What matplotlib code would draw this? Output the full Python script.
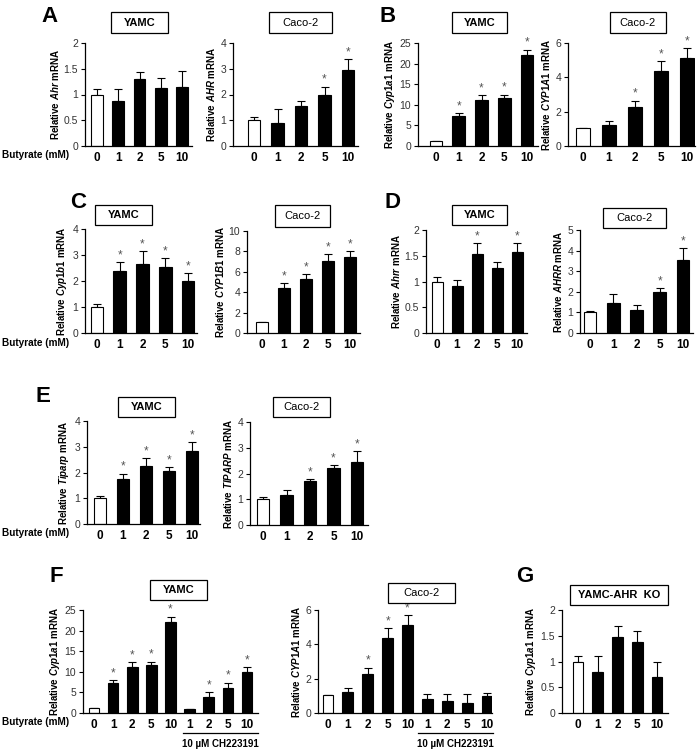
import numpy as np
import matplotlib
matplotlib.use('Agg')
import matplotlib.pyplot as plt
from matplotlib.patches import Rectangle
from matplotlib.lines import Line2D

plt.rcParams['font.family'] = ['Liberation Sans', 'DejaVu Sans']
plt.rcParams['mathtext.fontset'] = 'custom'
plt.rcParams['mathtext.it'] = 'Liberation Sans:italic:bold'
plt.rcParams['mathtext.rm'] = 'Liberation Sans:bold'

W, H = 700, 753

# ---- data ----
doses = ['0', '1', '2', '5', '10']
doses_ch = ['0', '1', '2', '5', '10', '1', '2', '5', '10']

a_yamc_mean = [1.00, 0.88, 1.31, 1.12, 1.14]
a_yamc_err = [0.10, 0.22, 0.12, 0.21, 0.31]
a_yamc_star = [0, 0, 0, 0, 0]
a_caco_mean = [1.00, 0.88, 1.55, 1.98, 2.97]
a_caco_err = [0.12, 0.55, 0.18, 0.33, 0.42]
a_caco_star = [0, 0, 0, 1, 1]

b_yamc_mean = [1.1, 7.2, 11.1, 11.6, 22.2]
b_yamc_err = [0.1, 0.7, 1.2, 0.9, 1.2]
b_yamc_star = [0, 1, 1, 1, 1]
b_caco_mean = [1.03, 1.25, 2.25, 4.35, 5.15]
b_caco_err = [0.03, 0.22, 0.40, 0.60, 0.55]
b_caco_star = [0, 0, 1, 1, 1]

c_yamc_mean = [1.00, 2.40, 2.67, 2.55, 2.00]
c_yamc_err = [0.10, 0.33, 0.48, 0.33, 0.30]
c_yamc_star = [0, 1, 1, 1, 1]
c_caco_mean = [1.05, 4.45, 5.30, 7.05, 7.50]
c_caco_err = [0.05, 0.45, 0.45, 0.65, 0.50]
c_caco_star = [0, 1, 1, 1, 1]

d_yamc_mean = [1.00, 0.92, 1.54, 1.27, 1.58]
d_yamc_err = [0.09, 0.10, 0.21, 0.11, 0.17]
d_yamc_star = [0, 0, 1, 0, 1]
d_caco_mean = [1.00, 1.45, 1.10, 1.97, 3.52]
d_caco_err = [0.08, 0.42, 0.28, 0.22, 0.62]
d_caco_star = [0, 0, 0, 1, 1]

e_yamc_mean = [1.00, 1.73, 2.27, 2.04, 2.85]
e_yamc_err = [0.10, 0.23, 0.30, 0.18, 0.33]
e_yamc_star = [0, 1, 1, 1, 1]
e_caco_mean = [1.00, 1.15, 1.70, 2.22, 2.45]
e_caco_err = [0.10, 0.22, 0.10, 0.12, 0.42]
e_caco_star = [0, 0, 1, 1, 1]

f_yamc_mean = [1.1, 7.2, 11.1, 11.6, 22.2, 0.9, 3.8, 6.0, 9.9]
f_yamc_err = [0.1, 0.7, 1.2, 0.9, 1.2, 0.1, 1.2, 1.4, 1.2]
f_yamc_star = [0, 1, 1, 1, 1, 0, 1, 1, 1]
f_caco_mean = [1.03, 1.25, 2.25, 4.35, 5.15, 0.80, 0.72, 0.60, 0.97]
f_caco_err = [0.03, 0.22, 0.40, 0.60, 0.55, 0.28, 0.40, 0.50, 0.22]
f_caco_star = [0, 0, 1, 1, 1, 0, 0, 0, 0]

g_mean = [1.00, 0.79, 1.48, 1.38, 0.69]
g_err = [0.10, 0.31, 0.21, 0.21, 0.31]
g_star = [0, 0, 0, 0, 0]

fig = plt.figure(figsize=(W / 100, H / 100), dpi=100)


def px_axes(L, R, top, bot):
    return fig.add_axes([L / W, 1 - bot / H, (R - L) / W, (bot - top) / H])


def panel(box, c0, cn, mean, err, star, labels, ymax, ystep, gene):
    L, R, top, bot = box
    ax = px_axes(L, R, top, bot)
    n = len(mean)
    s = (cn - c0) / (n - 1)
    x = np.arange(n)
    colors = ['white'] + ['black'] * (n - 1)
    ax.bar(x, mean, width=0.55, color=colors, edgecolor='black', linewidth=0.8, zorder=2)
    ax.errorbar(x, mean, yerr=[np.zeros(n), err], fmt='none', ecolor='black',
                elinewidth=0.8, capsize=3, capthick=0.8, zorder=1)
    for i in range(n):
        if star[i]:
            ax.annotate('*', (x[i], mean[i] + err[i]), xytext=(0, 0.5),
                        textcoords='offset points', ha='center', va='bottom',
                        fontsize=8.5, color='#555555')
    ax.set_xlim((L - c0) / s, (R - c0) / s)
    ax.set_ylim(0, ymax)
    yt = np.arange(0, ymax + 1e-9, ystep)
    ax.set_yticks(yt)
    ax.set_yticklabels(['%g' % v for v in yt])
    ax.set_xticks(x)
    ax.set_xticklabels(labels)
    for sp in ['top', 'right']:
        ax.spines[sp].set_visible(False)
    for sp in ['left', 'bottom']:
        ax.spines[sp].set_linewidth(0.9)
    ax.tick_params(axis='y', direction='out', length=3, width=0.8,
                   labelsize=7.5, labelcolor='#333333', pad=2)
    ax.tick_params(axis='x', length=0, labelsize=8.5, pad=4)
    for t in ax.get_xticklabels():
        t.set_fontweight('bold')
    ax.set_ylabel('Relative $\\mathit{%s}$ mRNA' % gene, fontsize=7,
                  fontweight='bold', labelpad=2)
    return ax


def title_box(x0, x1, y0, y1, text, bold=True):
    fig.patches.append(Rectangle((x0 / W, 1 - y1 / H), (x1 - x0) / W, (y1 - y0) / H,
                                 transform=fig.transFigure, facecolor='white',
                                 edgecolor='black', linewidth=0.9))
    fig.text((x0 + x1) / 2 / W, 1 - (y0 + y1) / 2 / H, text, ha='center', va='center',
             fontsize=8, fontweight='bold' if bold else 'normal')


def ftext(x, y, s, **kw):
    fig.text(x / W, 1 - y / H, s, **kw)


# A
panel((85, 192, 43, 146), 97, 182, a_yamc_mean, a_yamc_err, a_yamc_star, doses, 2, 0.5, 'Ahr')
panel((233, 358, 43, 146), 254, 348, a_caco_mean, a_caco_err, a_caco_star, doses, 4, 1, 'AHR')
# B
panel((418, 538, 43, 146), 436, 527, b_yamc_mean, b_yamc_err, b_yamc_star, doses, 25, 5, 'Cyp1a1')
panel((568, 695, 43, 146), 583, 687, b_caco_mean, b_caco_err, b_caco_star, doses, 6, 2, 'CYP1A1')
# C
panel((85, 197, 229, 333), 97, 188, c_yamc_mean, c_yamc_err, c_yamc_star, doses, 4, 1, 'Cyp1b1')
panel((247, 360, 231, 333), 262, 350, c_caco_mean, c_caco_err, c_caco_star, doses, 10, 2, 'CYP1B1')
# D
panel((426, 527, 230, 333), 437, 517, d_yamc_mean, d_yamc_err, d_yamc_star, doses, 2, 0.5, 'Ahrr')
panel((580, 693, 230, 333), 590, 683, d_caco_mean, d_caco_err, d_caco_star, doses, 5, 1, 'AHRR')
# E
panel((87, 200, 421, 524), 100, 192, e_yamc_mean, e_yamc_err, e_yamc_star, doses, 4, 1, 'Tiparp')
panel((250, 368, 422, 525), 263, 357, e_caco_mean, e_caco_err, e_caco_star, doses, 4, 1, 'TIPARP')
# F
panel((83, 258, 610, 713), 94, 247, f_yamc_mean, f_yamc_err, f_yamc_star, doses_ch, 25, 5, 'Cyp1a1')
panel((318, 492, 610, 713), 328, 487, f_caco_mean, f_caco_err, f_caco_star, doses_ch, 6, 2, 'CYP1A1')
# G
panel((562, 668, 610, 713), 578, 657, g_mean, g_err, g_star, doses, 2, 0.5, 'Cyp1a1')

# cell-line boxes
title_box(111, 168, 12, 33, 'YAMC')
title_box(269, 332, 12, 33, 'Caco-2', bold=False)
title_box(452, 507, 12, 33, 'YAMC')
title_box(610, 666, 12, 33, 'Caco-2', bold=False)
title_box(95, 152, 205, 225, 'YAMC')
title_box(275, 330, 205, 227, 'Caco-2', bold=False)
title_box(452, 507, 205, 225, 'YAMC')
title_box(603, 666, 208, 228, 'Caco-2', bold=False)
title_box(118, 175, 397, 417, 'YAMC')
title_box(273, 330, 397, 417, 'Caco-2', bold=False)
title_box(150, 207, 580, 600, 'YAMC')
title_box(388, 455, 583, 603, 'Caco-2', bold=False)
title_box(570, 668, 585, 605, 'YAMC-AHR  KO')

# panel letters
for lx, ly, letter in [(49, 16, 'A'), (388, 16, 'B'), (78, 202, 'C'), (393, 202, 'D'),
                       (43, 396, 'E'), (56, 576, 'F'), (525, 576, 'G')]:
    ftext(lx, ly, letter, ha='center', va='center', fontsize=16, fontweight='bold')

# butyrate labels
for by in [155, 343, 533, 722]:
    ftext(69, by, 'Butyrate (mM)', ha='right', va='center', fontsize=7.2, fontweight='bold')

# CH223191 brackets
for x0, x1 in [(183, 258), (418, 493)]:
    fig.add_artist(Line2D([x0 / W, x1 / W], [1 - 733 / H, 1 - 733 / H],
                          transform=fig.transFigure, color='black', linewidth=0.9))
    ftext((x0 + x1) / 2, 744, '10 \u00b5M CH223191', ha='center', va='center',
          fontsize=7, fontweight='bold')

fig.savefig('out.png', dpi=100)
